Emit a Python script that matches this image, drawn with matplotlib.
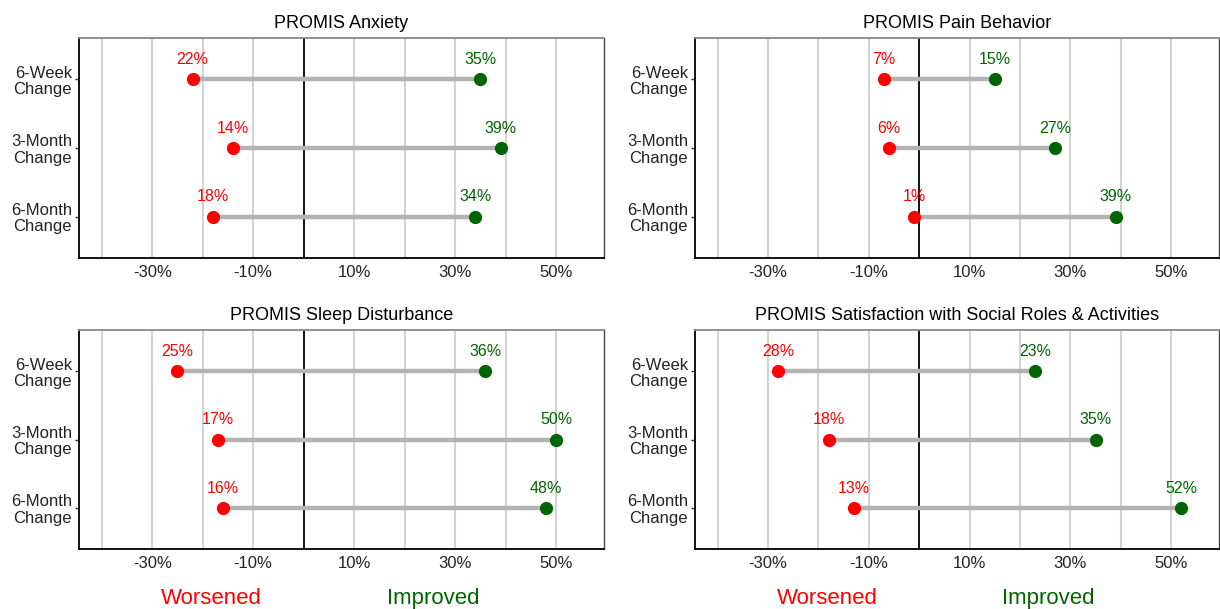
import numpy as np
import matplotlib.pyplot as plt
import matplotlib.transforms as mtransforms

plt.rcParams["font.family"] = ["Liberation Sans", "DejaVu Sans"]

periods = ["6-Week\nChange", "3-Month\nChange", "6-Month\nChange"]
titles = ["PROMIS Anxiety", "PROMIS Pain Behavior",
          "PROMIS Sleep Disturbance",
          "PROMIS Satisfaction with Social Roles & Activities"]
worsened = [[22, 14, 18], [7, 6, 1], [25, 17, 16], [28, 18, 13]]
improved = [[35, 39, 34], [15, 27, 39], [36, 50, 48], [23, 35, 52]]
xticks = [-30, -10, 10, 30, 50]
grid_x = [-40, -30, -20, -10, 10, 20, 30, 40, 50]

red = "#ff0000"
green = "#006400"

W, H = 1220, 609
fig = plt.figure(figsize=(W / 100, H / 100), dpi=100)

# pixel boxes (left, top, right, bottom)
boxes = [(79, 38, 604, 258), (695, 38, 1219, 258),
         (79, 330, 604, 549), (695, 330, 1219, 549)]

for k, (l, t, r, b) in enumerate(boxes):
    ax = fig.add_axes([l / W, (H - b) / H, (r - l) / W, (b - t) / H])
    y = np.arange(1, len(periods) + 1)
    w = -np.array(worsened[k])
    im = np.array(improved[k])

    for gx in grid_x:
        ax.axvline(gx, color="#d3d3d3", lw=1.5, zorder=0)
    ax.axvline(0, color="black", lw=1.3, zorder=1)

    ax.hlines(y, w, im, color="#b3b3b3", lw=3.2, zorder=2)
    ax.plot(w, y, "o", color=red, ms=8.5, zorder=3)
    ax.plot(im, y, "o", color=green, ms=8.5, zorder=3)

    for yi, wi, ii in zip(y, w, im):
        ax.text(wi, yi - 0.18, f"{-wi}%", color=red, ha="center",
                va="bottom", fontsize=11.5)
        ax.text(ii, yi - 0.18, f"{ii}%", color=green, ha="center",
                va="bottom", fontsize=11.5)

    ax.set_xlim(-44.5, 59.5)
    ax.set_ylim(3.6, 0.4)
    ax.set_xticks(xticks)
    ax.set_xticklabels([f"{v}%" for v in xticks], fontsize=12, color="#222222")
    ax.set_yticks(y)
    ax.set_yticklabels(periods, fontsize=12, color="#222222", linespacing=1.1)
    ax.tick_params(axis="x", length=0, pad=5)
    ax.tick_params(axis="y", length=3, width=1, color="#333333", pad=2)
    ax.set_title(titles[k], fontsize=13, pad=7)

    ax.spines["left"].set_color("black")
    ax.spines["bottom"].set_color("black")
    ax.spines["left"].set_linewidth(1.3)
    ax.spines["bottom"].set_linewidth(1.3)
    ax.spines["top"].set_color("#888888")
    ax.spines["right"].set_color("#444444")
    ax.spines["top"].set_linewidth(1.3)
    ax.spines["right"].set_linewidth(1.0)

    if k >= 2:
        trans = mtransforms.blended_transform_factory(ax.transData, ax.transAxes)
        ax.text(-18.3, -0.225, "Worsened", color=red, fontsize=16,
                ha="center", va="center", transform=trans)
        ax.text(25.7, -0.225, "Improved", color=green, fontsize=16,
                ha="center", va="center", transform=trans)

fig.savefig("out.png", dpi=100)
